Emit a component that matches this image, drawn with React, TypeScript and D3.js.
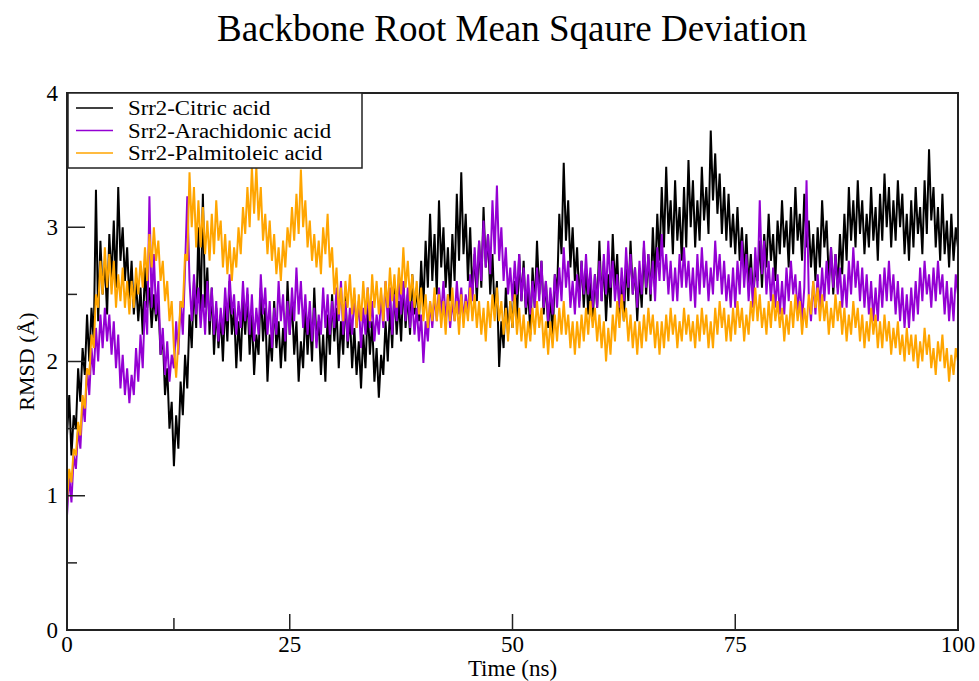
import React, { useEffect, useRef } from 'react';
import * as d3 from 'd3';

// RMSD traces, one sample every 0.25 ns (0..100 ns), 20 values per row = 5 ns
const citric = [
  1.45, 1.75, 1.3, 1.6, 1.5, 1.95, 1.7, 2.1, 1.9, 2.35, 2.0, 2.4, 2.15, 3.28, 2.3, 2.9, 2.5, 2.75, 2.35, 2.95,
  2.6, 3.05, 2.55, 3.3, 2.75, 3.0, 2.6, 2.85, 2.45, 2.75, 2.35, 2.6, 2.3, 2.55, 2.2, 2.7, 2.4, 2.55, 2.25, 2.5,
  2.3, 2.45, 2.05, 2.2, 1.75, 1.95, 1.5, 1.7, 1.22, 1.6, 1.35, 1.85, 1.6, 2.05, 1.8, 2.35, 2.1, 2.6, 2.25, 3.0,
  2.35, 3.25, 2.4, 2.7, 2.2, 2.55, 2.05, 2.4, 2.1, 2.35, 2.0, 2.45, 2.15, 2.6, 2.2, 2.4, 1.95, 2.3, 2.0, 2.45,
  2.2, 2.5, 2.05, 2.35, 1.9, 2.2, 2.05, 2.55, 2.15, 2.4, 1.85, 2.2, 2.0, 2.45, 2.1, 2.3, 1.95, 2.25, 2.0, 2.6,
  2.2, 2.45, 2.05, 2.3, 1.85, 2.15, 1.95, 2.4, 2.05, 2.35, 2.0, 2.55, 2.15, 2.3, 1.9, 2.2, 1.85, 2.35, 2.05, 2.5,
  2.15, 2.4, 1.95, 2.3, 2.05, 2.5, 2.1, 2.35, 1.95, 2.25, 1.9, 2.15, 1.8, 2.2, 1.95, 2.4, 2.05, 2.3, 1.85, 2.1,
  1.73, 2.05, 1.9, 2.3, 2.0, 2.4, 2.1, 2.55, 2.2, 2.45, 2.15, 2.6, 2.25, 2.5, 2.2, 2.65, 2.35, 2.55, 2.3, 2.75,
  2.4, 2.9, 2.55, 3.1, 2.6, 2.95, 2.5, 3.2, 2.7, 3.0, 2.55, 2.85, 2.45, 2.95, 2.6, 3.25, 2.75, 3.41, 2.8, 3.1,
  2.6, 3.0, 2.5, 2.8, 2.45, 2.9, 2.55, 3.15, 2.7, 2.95, 2.5, 2.8, 2.35, 2.6, 1.96, 2.3, 2.1, 2.55, 2.2, 2.45,
  2.25, 2.6, 2.3, 2.8, 2.45, 2.75, 2.35, 2.55, 2.2, 2.7, 2.4, 2.9, 2.5, 2.75, 2.35, 2.6, 2.25, 2.5, 2.15, 2.65,
  2.5, 3.1, 2.8, 3.48, 2.9, 3.2, 2.7, 3.0, 2.6, 2.85, 2.45, 2.75, 2.4, 2.7, 2.35, 2.6, 2.3, 2.65, 2.4, 2.9,
  2.45, 2.75, 2.3, 2.65, 2.4, 2.95, 2.55, 2.8, 2.35, 2.6, 2.3, 2.75, 2.45, 2.9, 2.5, 2.7, 2.3, 2.65, 2.4, 2.85,
  2.5, 2.8, 2.45, 3.0, 2.6, 3.1, 2.75, 3.3, 2.85, 3.45, 2.95, 3.2, 2.8, 3.35, 2.9, 3.15, 2.75, 3.3, 2.85, 3.5,
  3.0, 3.35, 2.85, 3.2, 2.9, 3.45, 3.05, 3.3, 2.95, 3.72, 3.2, 3.55, 3.1, 3.4, 2.95, 3.3, 2.9, 3.25, 2.85, 3.1,
  2.8, 3.15, 2.75, 3.0, 2.65, 2.95, 2.55, 2.8, 2.45, 2.7, 2.6, 2.9, 2.55, 2.95, 2.7, 3.1, 2.75, 2.95, 2.6, 3.05,
  2.8, 3.2, 2.85, 3.05, 2.7, 3.15, 2.8, 3.3, 2.9, 3.1, 2.75, 3.25, 2.85, 3.05, 2.7, 2.95, 2.6, 3.0, 2.7, 3.2,
  2.85, 3.05, 2.6, 2.85, 2.5, 2.8, 2.55, 2.95, 2.65, 3.1, 2.75, 3.3, 2.9, 3.2, 2.85, 3.35, 2.95, 3.2, 2.8, 3.1,
  2.85, 3.3, 2.9, 3.15, 2.75, 3.25, 2.9, 3.4, 3.0, 3.3, 2.85, 3.2, 2.9, 3.35, 3.0, 3.25, 2.8, 3.1, 2.75, 3.2,
  2.85, 3.3, 2.95, 3.15, 2.8, 3.35, 2.95, 3.58, 3.05, 3.3, 2.85, 3.15, 2.75, 3.25, 2.8, 3.05, 2.7, 3.1, 2.75, 3.0,
  2.85,
];

const arachidonic = [
  0.85, 1.15, 0.95, 1.3, 1.2, 1.5, 1.35, 1.7, 1.55, 1.95, 1.75, 2.1, 1.9, 2.25, 2.0, 2.35, 2.1, 2.4, 2.15, 2.35,
  2.05, 2.3, 1.95, 2.2, 1.8, 2.05, 1.75, 1.95, 1.69, 1.9, 1.75, 2.1, 1.85, 2.2, 1.95, 2.45, 2.2, 3.23, 2.4, 2.8,
  2.35, 2.6, 2.05, 2.25, 1.9, 2.15, 1.85, 2.05, 1.95, 2.3, 2.05, 2.45, 2.2, 2.7, 3.23, 2.6, 2.3, 2.65, 2.35, 2.55,
  2.25, 2.5, 2.2, 2.6, 2.3, 2.55, 2.2, 2.45, 2.15, 2.4, 2.2, 2.55, 2.3, 2.65, 2.35, 2.5, 2.2, 2.45, 2.25, 2.6,
  2.3, 2.55, 2.2, 2.5, 2.15, 2.4, 2.2, 2.65, 2.35, 2.55, 2.2, 2.45, 2.1, 2.4, 2.2, 2.6, 2.3, 2.5, 2.15, 2.45,
  2.2, 2.55, 2.3, 2.7, 2.35, 2.6, 2.25, 2.5, 2.2, 2.45, 2.15, 2.4, 2.1, 2.35, 2.2, 2.55, 2.25, 2.5, 2.2, 2.45,
  2.25, 2.55, 2.3, 2.6, 2.2, 2.45, 2.15, 2.4, 2.2, 2.5, 2.25, 2.45, 2.1, 2.4, 2.2, 2.55, 2.25, 2.45, 2.15, 2.35,
  2.2, 2.5, 2.25, 2.6, 2.3, 2.55, 2.2, 2.5, 2.3, 2.65, 2.35, 2.6, 2.3, 2.55, 2.25, 2.45, 2.2, 2.4, 2.15, 2.35,
  1.99, 2.3, 2.15, 2.45, 2.25, 2.5, 2.3, 2.55, 2.35, 2.6, 2.3, 2.5, 2.25, 2.45, 2.3, 2.6, 2.35, 2.55, 2.3, 2.5,
  2.35, 2.65, 2.45, 2.85, 2.55, 2.9, 2.6, 3.05, 2.7, 2.95, 2.65, 3.2, 2.8, 3.31, 2.75, 3.0, 2.6, 2.85, 2.5, 2.7,
  2.45, 2.75, 2.5, 2.8, 2.45, 2.7, 2.4, 2.65, 2.35, 2.6, 2.4, 2.7, 2.45, 2.75, 2.4, 2.6, 2.3, 2.55, 2.35, 2.65,
  2.4, 2.7, 2.45, 2.85, 2.55, 2.75, 2.4, 2.6, 2.35, 2.65, 2.4, 2.75, 2.5, 2.8, 2.5, 2.7, 2.4, 2.65, 2.4, 2.75,
  2.45, 2.8, 2.5, 2.9, 2.55, 2.75, 2.45, 2.65, 2.4, 2.7, 2.45, 2.85, 2.55, 2.8, 2.5, 2.7, 2.4, 2.75, 2.5, 2.9,
  2.55, 2.8, 2.5, 2.75, 2.45, 2.85, 2.6, 2.95, 2.6, 2.8, 2.5, 2.75, 2.45, 2.7, 2.45, 2.8, 2.55, 2.85, 2.55, 2.75,
  2.45, 2.7, 2.4, 2.8, 2.5, 2.85, 2.55, 2.75, 2.45, 2.7, 2.5, 2.9, 2.6, 2.8, 2.5, 2.75, 2.45, 2.65, 2.4, 2.7,
  2.4, 2.75, 2.5, 2.9, 2.55, 2.8, 2.45, 2.7, 2.4, 2.85, 2.55, 3.2, 2.65, 2.9, 2.5, 2.75, 2.45, 2.7, 2.4, 2.65,
  2.35, 2.6, 2.35, 2.7, 2.45, 2.75, 2.5, 2.65, 2.35, 2.6, 2.3, 2.55, 3.35, 2.5, 2.3, 2.6, 2.35, 2.65, 2.4, 2.7,
  2.45, 2.75, 2.5, 2.85, 2.55, 2.8, 2.5, 2.7, 2.4, 2.65, 2.4, 2.75, 2.5, 2.85, 2.55, 2.75, 2.45, 2.7, 2.4, 2.65,
  2.35, 2.6, 2.3, 2.55, 2.3, 2.65, 2.4, 2.7, 2.45, 2.75, 2.45, 2.65, 2.35, 2.6, 2.3, 2.55, 2.25, 2.5, 2.25, 2.55,
  2.3, 2.6, 2.35, 2.7, 2.45, 2.75, 2.5, 2.65, 2.4, 2.7, 2.45, 2.75, 2.5, 2.65, 2.35, 2.6, 2.3, 2.55, 2.3, 2.65,
  2.5,
];

const palmitoleic = [
  0.95, 1.2, 1.1, 1.35, 1.3, 1.55, 1.45, 1.75, 1.65, 1.95, 1.9, 2.2, 2.1, 2.5, 2.4, 2.75, 2.5, 2.85, 2.55, 2.8,
  2.5, 2.75, 2.4, 2.65, 2.45, 2.7, 2.4, 2.6, 2.35, 2.6, 2.4, 2.7, 2.5, 2.75, 2.55, 2.85, 2.6, 2.95, 2.7, 3.0,
  2.75, 2.9, 2.6, 2.75, 2.45, 2.6, 2.3, 2.45, 2.1, 1.88, 2.15, 2.45, 2.4, 2.8, 2.75, 3.41, 3.0, 3.3, 2.85, 3.2,
  2.85, 3.15, 2.8, 3.05, 2.75, 3.1, 2.8, 3.2, 2.9, 3.05, 2.7, 2.95, 2.65, 2.9, 2.6, 2.85, 2.7, 3.0, 2.8, 3.15,
  2.95, 3.3, 3.0, 3.45, 3.1, 3.45, 3.05, 3.3, 2.9, 3.1, 2.8, 3.05, 2.75, 2.95, 2.65, 2.85, 2.6, 2.9, 2.7, 3.0,
  2.85, 3.15, 2.9, 3.25, 2.95, 3.43, 3.0, 3.2, 2.85, 3.05, 2.75, 2.95, 2.7, 2.9, 2.65, 3.0, 2.8, 3.1, 2.7, 2.85,
  2.5, 2.7, 2.35, 2.55, 2.3, 2.6, 2.4, 2.65, 2.35, 2.55, 2.25, 2.5, 2.3, 2.6, 2.35, 2.55, 2.3, 2.65, 2.4, 2.6,
  2.35, 2.55, 2.3, 2.6, 2.4, 2.7, 2.45, 2.65, 2.4, 2.7, 2.5, 2.85, 2.55, 2.75, 2.45, 2.65, 2.4, 2.6, 2.35, 2.55,
  2.3, 2.5, 2.25, 2.45, 2.3, 2.55, 2.3, 2.5, 2.25, 2.45, 2.2, 2.5, 2.3, 2.55, 2.3, 2.45, 2.2, 2.5, 2.25, 2.45,
  2.3, 2.55, 2.3, 2.5, 2.25, 2.45, 2.2, 2.4, 2.15, 2.45, 2.25, 2.5, 2.3, 2.55, 2.3, 2.45, 2.2, 2.4, 2.15, 2.45,
  2.25, 2.5, 2.2, 2.4, 2.15, 2.35, 2.1, 2.3, 2.15, 2.4, 2.2, 2.45, 2.25, 2.4, 2.1, 2.3, 2.05, 2.3, 2.1, 2.35,
  2.15, 2.4, 2.2, 2.45, 2.2, 2.35, 2.1, 2.3, 2.05, 2.3, 2.1, 2.35, 2.15, 2.4, 2.2, 2.45, 2.25, 2.4, 2.15, 2.35,
  2.1, 2.3, 2.0, 2.25, 2.05, 2.35, 2.15, 2.45, 2.25, 2.5, 2.3, 2.4, 2.15, 2.35, 2.1, 2.3, 2.05, 2.3, 2.1, 2.35,
  2.15, 2.4, 2.2, 2.35, 2.1, 2.3, 2.05, 2.3, 2.1, 2.35, 2.15, 2.4, 2.2, 2.35, 2.1, 2.3, 2.15, 2.4, 2.2, 2.35,
  2.15, 2.3, 2.1, 2.35, 2.15, 2.4, 2.2, 2.35, 2.1, 2.3, 2.1, 2.4, 2.2, 2.45, 2.25, 2.4, 2.15, 2.35, 2.15, 2.4,
  2.2, 2.45, 2.25, 2.4, 2.15, 2.35, 2.2, 2.45, 2.3, 2.55, 2.3, 2.5, 2.25, 2.4, 2.2, 2.45, 2.25, 2.5, 2.3, 2.45,
  2.25, 2.4, 2.15, 2.35, 2.2, 2.45, 2.25, 2.5, 2.3, 2.45, 2.2, 2.4, 2.25, 2.5, 2.35, 2.6, 2.4, 2.55, 2.3, 2.5,
  2.3, 2.45, 2.2, 2.4, 2.25, 2.5, 2.3, 2.45, 2.2, 2.4, 2.15, 2.35, 2.2, 2.45, 2.25, 2.4, 2.15, 2.35, 2.1, 2.3,
  2.15, 2.4, 2.2, 2.35, 2.1, 2.3, 2.1, 2.35, 2.15, 2.3, 2.05, 2.25, 2.1, 2.3, 2.05, 2.2, 2.0, 2.25, 2.05, 2.2,
  2.0, 2.2, 1.95, 2.15, 2.0, 2.25, 2.05, 2.2, 1.95, 2.1, 1.9, 2.15, 2.0, 2.2, 1.95, 2.1, 1.85, 2.05, 1.9, 2.1,
  2.0,
];

const STEP_NS = 0.25;
const seriesNames = ['Srr2-Citric acid', 'Srr2-Arachidonic acid', 'Srr2-Palmitoleic acid'];
const seriesValues = [citric, arachidonic, palmitoleic];
const seriesColors = ['#000000', '#9400d3', '#ffa500'];
const xTicks = [0, 25, 50, 75, 100];
const xMinorTicks = [12];
const yTicks = [0, 1, 2, 3, 4];
const yMinorTicks = [0.5, 1.5, 2.5, 3.5];

const W = 979;
const H = 681;
const FONT = '"Liberation Serif", "Times New Roman", serif';

export default function App() {
  const ref = useRef<SVGSVGElement>(null);

  useEffect(() => {
    if (!ref.current) return;
    const svg = d3.select(ref.current);
    svg.selectAll('*').remove();

    const left = 67, right = 958, top = 93, bottom = 630;
    const x = d3.scaleLinear().domain([0, 100]).range([left, right]);
    const y = d3.scaleLinear().domain([0, 4]).range([bottom, top]);

    svg.append('rect').attr('width', W).attr('height', H).attr('fill', '#fff');

    // title
    svg.append('text')
      .attr('x', 512)
      .attr('y', 41)
      .attr('text-anchor', 'middle')
      .style('font-family', FONT)
      .style('font-size', '37px')
      .text('Backbone Root Mean Sqaure Deviation');

    // traces
    const clip = svg.append('clipPath').attr('id', 'plotclip');
    clip.append('rect').attr('x', left).attr('y', top).attr('width', right - left).attr('height', bottom - top);
    const line = d3.line<number>()
      .x((_, i) => x(i * STEP_NS))
      .y(d => y(d));
    const g = svg.append('g').attr('clip-path', 'url(#plotclip)');
    seriesValues.forEach((vals, k) => {
      g.append('path')
        .datum(vals)
        .attr('d', line)
        .attr('fill', 'none')
        .attr('stroke', seriesColors[k])
        .attr('stroke-width', 2)
        .attr('stroke-linejoin', 'miter');
    });

    // ticks (inward)
    const axisColor = '#222';
    const tk = svg.append('g').attr('stroke', axisColor).attr('stroke-width', 1.5);
    xTicks.slice(1, -1).forEach(t => {
      tk.append('line').attr('x1', x(t)).attr('x2', x(t)).attr('y1', bottom).attr('y2', bottom - 16);
    });
    xMinorTicks.forEach(t => {
      tk.append('line').attr('x1', x(t)).attr('x2', x(t)).attr('y1', bottom).attr('y2', bottom - 12);
    });
    yTicks.slice(1, -1).forEach(t => {
      tk.append('line').attr('x1', left).attr('x2', left + 18).attr('y1', y(t)).attr('y2', y(t));
    });
    yMinorTicks.forEach(t => {
      tk.append('line').attr('x1', left).attr('x2', left + 10).attr('y1', y(t)).attr('y2', y(t));
    });

    // frame
    svg.append('rect')
      .attr('x', left).attr('y', top)
      .attr('width', right - left).attr('height', bottom - top)
      .attr('fill', 'none').attr('stroke', axisColor).attr('stroke-width', 2);

    // tick labels
    xTicks.forEach(t => {
      svg.append('text')
        .attr('x', x(t)).attr('y', 652)
        .attr('text-anchor', 'middle')
        .style('font-family', FONT).style('font-size', '23px')
        .text(String(t));
    });
    yTicks.forEach(t => {
      svg.append('text')
        .attr('x', 58).attr('y', y(t))
        .attr('text-anchor', 'end')
        .attr('dominant-baseline', 'central')
        .style('font-family', FONT).style('font-size', '23px')
        .text(String(t));
    });

    // axis titles
    svg.append('text')
      .attr('x', (left + right) / 2).attr('y', 676)
      .attr('text-anchor', 'middle')
      .style('font-family', FONT).style('font-size', '23px')
      .text('Time (ns)');
    svg.append('text')
      .attr('transform', `translate(34, ${(top + bottom) / 2}) rotate(-90)`)
      .attr('text-anchor', 'middle')
      .style('font-family', FONT).style('font-size', '22px')
      .text('RMSD (Å)');

    // legend (text slightly widened like the original)
    const lg = svg.append('g');
    lg.append('rect')
      .attr('x', left + 1).attr('y', top)
      .attr('width', 294).attr('height', 75)
      .attr('fill', '#fff').attr('stroke', axisColor).attr('stroke-width', 1.5);
    seriesNames.forEach((name, k) => {
      const ry = 108 + k * 22.5;
      lg.append('line')
        .attr('x1', 76).attr('x2', 113).attr('y1', ry).attr('y2', ry)
        .attr('stroke', seriesColors[k]).attr('stroke-width', 1.5);
      const t = lg.append('text')
        .attr('x', 128).attr('y', ry)
        .attr('dominant-baseline', 'central')
        .style('font-family', FONT).style('font-size', '20px')
        .text(name);
      const node = t.node() as SVGTextElement | null;
      if (node && node.getComputedTextLength) {
        t.attr('textLength', node.getComputedTextLength() * 1.14)
          .attr('lengthAdjust', 'spacingAndGlyphs');
      }
    });
  }, []);

  return (
    <svg
      ref={ref}
      width={W}
      height={H}
      style={{ position: 'absolute', left: 0, top: 0, display: 'block' }}
    />
  );
}
